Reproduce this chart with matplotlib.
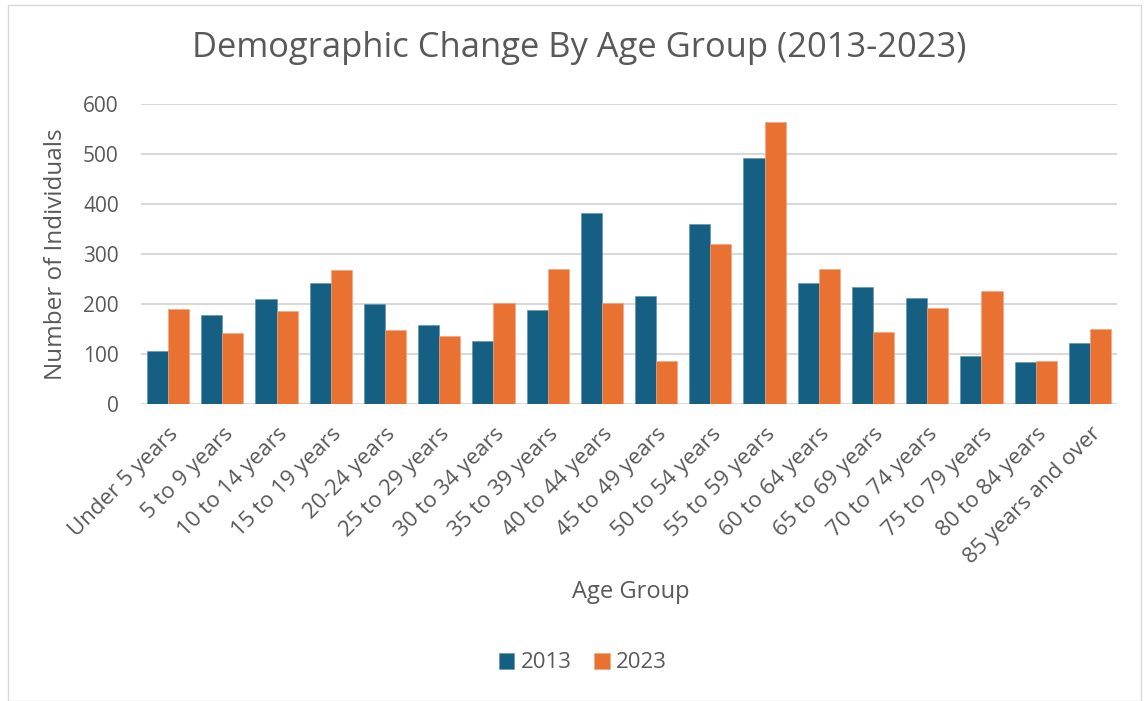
import matplotlib.pyplot as plt
import numpy as np
from matplotlib.patches import Rectangle

plt.rcParams['font.family'] = ['Open Sans', 'DejaVu Sans']

age_groups = ["Under 5 years", "5 to 9 years", "10 to 14 years", "15 to 19 years",
              "20-24 years", "25 to 29 years", "30 to 34 years", "35 to 39 years",
              "40 to 44 years", "45 to 49 years", "50 to 54 years", "55 to 59 years",
              "60 to 64 years", "65 to 69 years", "70 to 74 years", "75 to 79 years",
              "80 to 84 years", "85 years and over"]
pop_2013 = [107, 179, 211, 243, 201, 158, 127, 189, 383, 216, 361, 492, 243, 235, 213, 96, 85, 123]
pop_2023 = [191, 142, 186, 269, 149, 137, 203, 271, 203, 87, 321, 565, 271, 145, 192, 227, 87, 151]

text_col = '#595959'
fig = plt.figure(figsize=(11.44, 7.01), dpi=100)
ax = fig.add_axes([141 / 1144, 1 - 404 / 701, (1117 - 141) / 1144, 300 / 701])

x = np.arange(len(age_groups))
w = 0.39
ax.bar(x - w / 2, pop_2013, w, color='#156082', label='2013', zorder=3,
       edgecolor='#5b8fa8', linewidth=0.4)
ax.bar(x + w / 2, pop_2023, w, color='#E97132', label='2023', zorder=3,
       edgecolor='#f3a57a', linewidth=0.4)

ax.set_xlim(-0.5, len(age_groups) - 0.5)
ax.set_ylim(0, 600)
ax.set_yticks(range(0, 601, 100))
ax.yaxis.grid(True, color='#d9d9d9', linewidth=1.5, zorder=0)
for s in ax.spines.values():
    s.set_visible(False)
ax.tick_params(length=0, labelsize=15, colors=text_col, pad=16)
ax.tick_params(axis='x', pad=14, labelsize=16)
ax.set_xticks(x)
ax.set_xticklabels(age_groups, rotation=45, ha='right', rotation_mode='anchor')

fig.text(56 / 1144, 1 - 254 / 701, 'Number of Individuals', fontsize=17.5, color=text_col,
         ha='center', va='center', rotation=90)
fig.text(631 / 1144, 1 - 592 / 701, 'Age Group', fontsize=17, color=text_col,
         ha='center', va='center')
fig.text(579 / 1144, 1 - 48 / 701, 'Demographic Change By Age Group (2013-2023)',
         fontsize=24.8, color=text_col, ha='center', va='center')

ax.legend(loc='center', bbox_to_anchor=(583 / 1144, 1 - 663 / 701), bbox_transform=fig.transFigure,
          ncol=2, frameon=False, fontsize=16, labelcolor=text_col, handlelength=0.7,
          handleheight=0.7, handletextpad=0.3, columnspacing=1.0)

fig.patches.append(Rectangle((8 / 1144, 0), 1133 / 1144, 1 - 5 / 701, transform=fig.transFigure,
                             fill=False, edgecolor='#d9d9d9', linewidth=1))

fig.savefig('out.png', dpi=100)
